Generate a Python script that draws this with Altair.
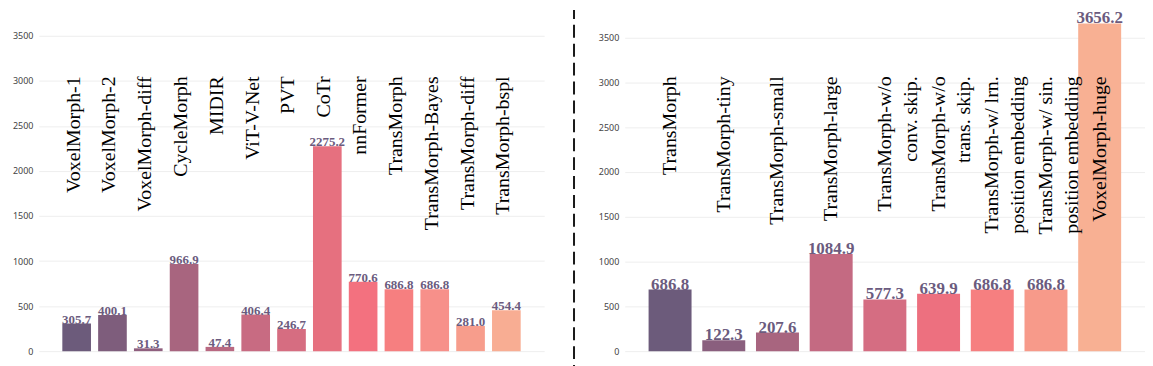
import altair as alt
import pandas as pd

# ---------------- data ----------------
left_names = ["VoxelMorph-1", "VoxelMorph-2", "VoxelMorph-diff", "CycleMorph", "MIDIR",
              "ViT-V-Net", "PVT", "CoTr", "nnFormer", "TransMorph", "TransMorph-Bayes",
              "TransMorph-diff", "TransMorph-bspl"]
left_values = [305.7, 400.1, 31.3, 966.9, 47.4, 406.4, 246.7, 2275.2, 770.6, 686.8, 686.8, 281.0, 454.4]
left_colors = ["#6c5b7b", "#7e5d7c", "#8f5f7e", "#a8657f", "#b96881", "#c86b82", "#d66d81",
               "#e6707f", "#f3717f", "#f67f80", "#f7908a", "#f79d8c", "#f8ad93"]

right_ids = ["r1", "r2", "r3", "r4", "r5", "r6", "r7", "r8", "r9"]
right_labels = ["TransMorph", "TransMorph-tiny", "TransMorph-small", "TransMorph-large",
                "TransMorph-w/o\nconv. skip.", "TransMorph-w/o\ntrans. skip.",
                "TransMorph-w/ lrn.\nposition embedding", "TransMorph-w/ sin.\nposition embedding",
                "VoxelMorph-huge"]
right_values = [686.8, 122.3, 207.6, 1084.9, 577.3, 639.9, 686.8, 686.8, 3656.2]
right_colors = ["#6c5b7b", "#8a5f7e", "#a8657f", "#c46a82", "#d56d82", "#ed707f",
                "#f67f80", "#f79a8a", "#f8b093"]

y_ticks = [0, 500, 1000, 1500, 2000, 2500, 3000, 3500]

left_df = pd.DataFrame({"name": left_names, "label": left_names,
                        "value": left_values, "color": left_colors})
right_df = pd.DataFrame({"name": right_ids, "label": right_labels,
                         "value": right_values, "color": right_colors})

SERIF = "Liberation Serif"
VAL_COLOR = "#6b5b7e"
HEIGHT = 317


def panel(df, width, pad_outer, ymax, label_pos, value_size, label_dy, with_rule=False):
    x = alt.X("name:N", sort=list(df["name"]), axis=None,
              scale=alt.Scale(paddingInner=0.2, paddingOuter=pad_outer))
    y_scale = alt.Scale(domain=[0, ymax], nice=False, zero=True)
    base = alt.Chart(df)
    bars = base.mark_bar().encode(
        x=x,
        y=alt.Y("value:Q", scale=y_scale,
                axis=alt.Axis(values=y_ticks, format="d", title=None, grid=True,
                              gridColor="#eeeeee", domain=False, ticks=False,
                              labelFont="Noto Sans", labelFontSize=9, labelColor="#444444",
                              labelPadding=6, minExtent=31, maxExtent=31)),
        color=alt.Color("color:N", scale=None),
    )
    values = base.mark_text(font=SERIF, fontWeight="bold", fontSize=value_size,
                            color=VAL_COLOR, baseline="alphabetic", dy=0).encode(
        x=x, y="value:Q", text=alt.Text("value:Q", format=".1f"))
    labels = base.mark_text(font=SERIF, fontSize=20, angle=270, align="right",
                            baseline="middle", lineBreak="\n", lineHeight=26,
                            dy=label_dy, color="black").encode(
        x=x, y=alt.datum(label_pos), text="label:N")
    layers = [bars, values, labels]
    if with_rule:
        rule = alt.Chart(pd.DataFrame({"a": [0]})).mark_rule(
            strokeDash=[13, 6], strokeDashOffset=4, strokeWidth=2, color="#1a1a1a").encode(
            x=alt.value(-51), y=alt.value(-26), y2=alt.value(334))
        layers.append(rule)
    return alt.layer(*layers).properties(width=width, height=HEIGHT)


left = panel(left_df, 508, 0.656, 3500, 3050, 13, -3)
right = panel(right_df, 523, 0.444, 3518, 3066, 17, 0, with_rule=True)

chart = alt.hconcat(left, right, spacing=29).properties(padding=0).configure_view(stroke=None)

chart.save("out.html", embed_options={"renderer": "svg", "actions": False})
